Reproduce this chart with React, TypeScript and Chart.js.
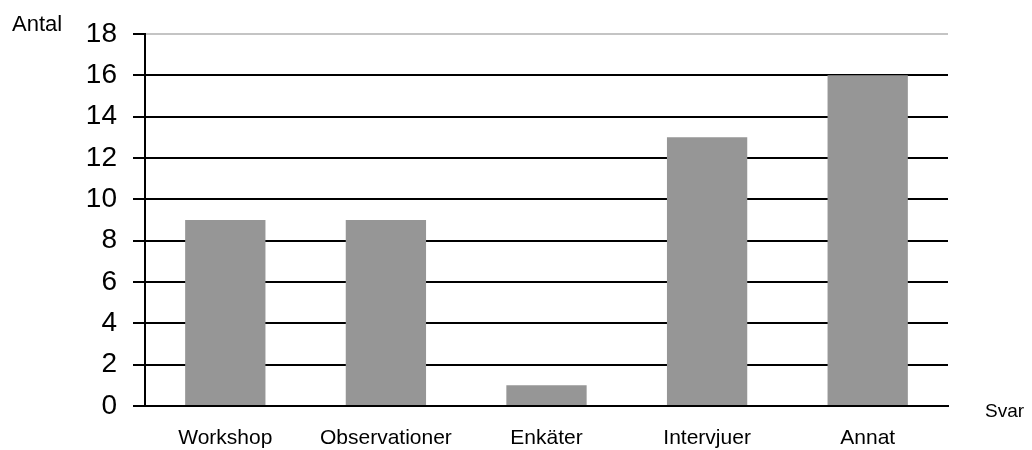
import React, { useEffect, useRef } from "react";
import { Chart, registerables } from "chart.js";

Chart.register(...registerables);

// Categories (answers) and counts
const categories = ["Workshop", "Observationer", "Enkäter", "Intervjuer", "Annat"];
const counts = [9, 9, 1, 13, 16];
const yMin = 0;
const yMax = 18;
const yStep = 2;
const yTitle = "Antal";
const xTitle = "Svar";

const FONT = "'Liberation Sans', Arial, sans-serif";

const axisTitles = {
  id: "axisTitles",
  afterDraw(chart: Chart) {
    const ctx = chart.ctx;
    ctx.save();
    ctx.fillStyle = "#000";
    ctx.textBaseline = "alphabetic";
    ctx.textAlign = "left";
    ctx.font = `22px ${FONT}`;
    ctx.fillText(yTitle, 12, 31);
    ctx.font = `19px ${FONT}`;
    ctx.fillText(xTitle, 985, 417);
    ctx.restore();
  },
};

export default function App() {
  const ref = useRef<HTMLCanvasElement>(null);

  useEffect(() => {
    if (!ref.current) return;
    const chart = new Chart(ref.current, {
      type: "bar",
      data: {
        labels: categories,
        datasets: [
          {
            data: counts,
            backgroundColor: "#969696",
            borderWidth: 0,
            barPercentage: 0.5,
            categoryPercentage: 1,
          },
        ],
      },
      options: {
        animation: false,
        responsive: false,
        maintainAspectRatio: false,
        layout: { padding: { left: 0, right: 84, top: 34, bottom: 0 } },
        plugins: {
          legend: { display: false },
          tooltip: { enabled: false },
        },
        scales: {
          x: {
            grid: { display: false },
            border: { display: true, color: "#000", width: 2 },
            ticks: {
              color: "#000",
              padding: 12,
              font: { family: FONT, size: 21 },
              maxRotation: 0,
            },
            afterFit(scale: any) {
              scale.height = 44;
            },
          },
          y: {
            min: yMin,
            max: yMax,
            ticks: {
              stepSize: yStep,
              color: "#000",
              padding: 16,
              font: { family: FONT, size: 28 },
            },
            grid: {
              color: (c: any) => (c.tick && c.tick.value === yMax ? "#c4c4c4" : "#000"),
              lineWidth: 2,
              tickLength: 12,
              tickColor: "#000",
              tickWidth: 2,
            },
            border: { display: true, color: "#000", width: 2 },
            afterFit(scale: any) {
              scale.width = 145;
            },
          },
        },
      },
      plugins: [axisTitles],
    });
    return () => chart.destroy();
  }, []);

  return (
    <div style={{ position: "absolute", left: 0, top: 0, width: 1032, height: 450, background: "#fff" }}>
      <canvas ref={ref} width={1032} height={450} style={{ display: "block" }} />
    </div>
  );
}
